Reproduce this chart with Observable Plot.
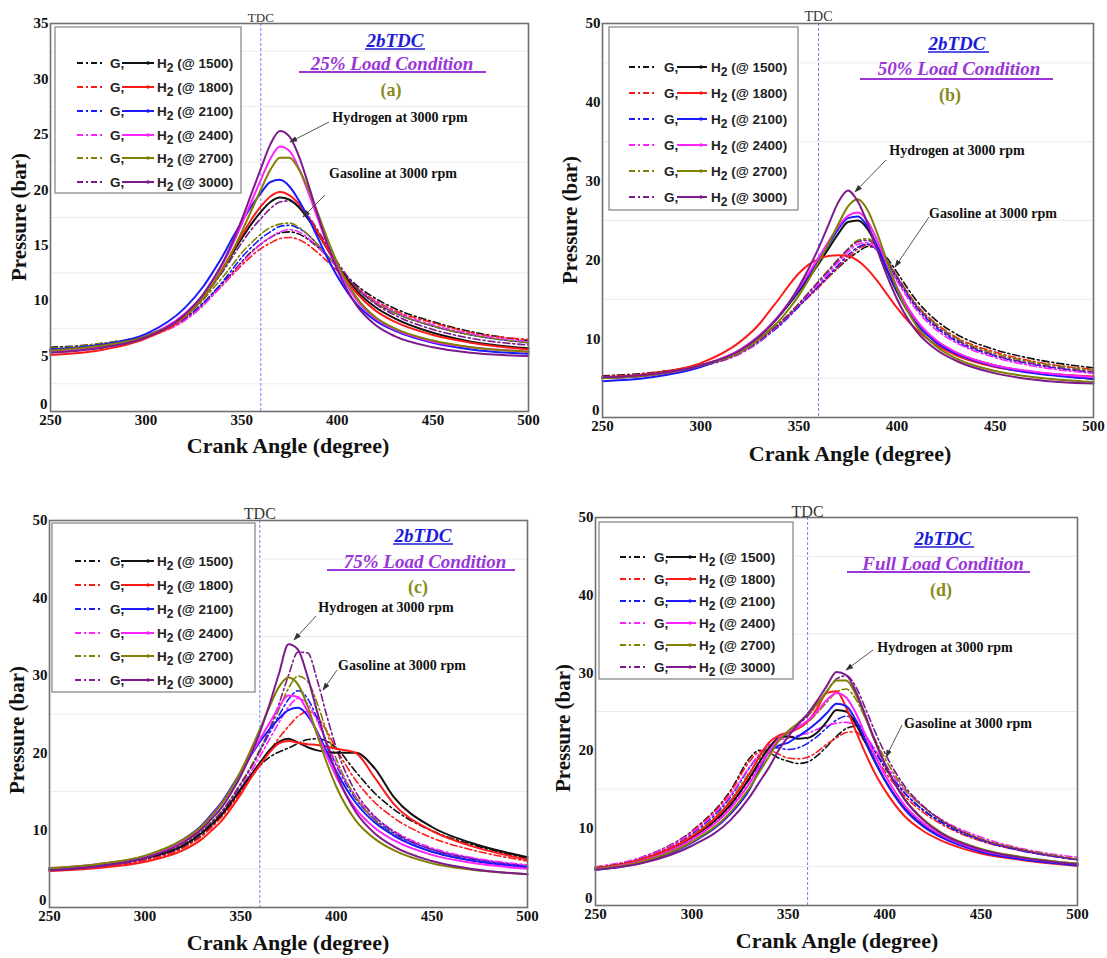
<!DOCTYPE html>
<html><head><meta charset="utf-8">
<script src="https://cdn.jsdelivr.net/npm/d3@7"></script>
<script src="https://cdn.jsdelivr.net/npm/@observablehq/plot@0.6"></script>
<style>
body{margin:0;background:#fff;}
#page{position:relative;width:1107px;height:958px;overflow:hidden;background:#fff;}
.panel{position:absolute;}
</style></head><body><div id="page"></div>
<script>
// ---------- DATA ----------
const angles = [250, 275, 300, 320, 330, 335, 340, 345, 350, 355, 360, 365, 370, 375, 380, 385, 390, 395, 400, 410, 420, 430, 450, 470, 500];
const speeds = [1500, 1800, 2100, 2400, 2700, 3000];
const speedColors = ["#111111", "#ff1a1a", "#1a1aff", "#ff22ff", "#808000", "#7d1a8c"];
const xTicks = [250, 300, 350, 400, 450, 500];

// (a) 25% load
const loadA_H2 = [
  [5.5, 5.9, 6.8, 8.6, 10.3, 11.5, 12.8, 14.2, 15.6, 16.9, 18.0, 18.9, 19.3, 19.1, 18.4, 17.3, 16.0, 14.6, 13.2, 10.9, 9.4, 8.4, 7.1, 6.3, 5.7],
  [5.1, 5.5, 6.6, 8.5, 10.3, 11.5, 12.9, 14.4, 15.9, 17.3, 18.5, 19.4, 19.8, 19.5, 18.7, 17.5, 16.1, 14.6, 13.1, 10.7, 9.1, 8.1, 6.9, 6.2, 5.6],
  [5.6, 6.0, 7.0, 9.3, 11.3, 12.6, 14.0, 15.6, 17.1, 18.5, 19.7, 20.7, 20.9, 20.3, 19.0, 17.4, 15.6, 13.8, 12.2, 9.7, 8.2, 7.3, 6.2, 5.6, 5.2],
  [5.4, 5.8, 6.8, 8.8, 10.6, 11.9, 13.3, 15.0, 16.9, 18.9, 20.9, 22.8, 23.9, 23.5, 21.9, 19.7, 17.3, 15.0, 13.0, 10.1, 8.4, 7.4, 6.3, 5.8, 5.4],
  [5.5, 5.9, 6.8, 8.6, 10.3, 11.5, 12.8, 14.4, 16.2, 18.1, 20.0, 21.8, 22.9, 22.9, 21.8, 20.0, 17.8, 15.5, 13.4, 10.3, 8.5, 7.5, 6.4, 5.8, 5.4],
  [5.3, 5.7, 6.7, 8.7, 10.6, 11.9, 13.4, 15.2, 17.3, 19.6, 21.9, 24.1, 25.3, 24.8, 23.0, 20.4, 17.6, 15.0, 12.8, 9.6, 7.8, 6.8, 5.8, 5.3, 5.0]
];
const loadA_G = [
  [5.8, 6.1, 6.9, 8.4, 9.8, 10.7, 11.6, 12.5, 13.5, 14.4, 15.1, 15.7, 16.1, 16.2, 16.0, 15.5, 14.8, 14.0, 13.1, 11.4, 10.2, 9.3, 8.1, 7.2, 6.4],
  [5.5, 5.9, 6.7, 8.2, 9.6, 10.5, 11.4, 12.3, 13.2, 14.0, 14.7, 15.2, 15.6, 15.7, 15.5, 15.0, 14.3, 13.5, 12.7, 11.2, 10.0, 9.1, 8.0, 7.1, 6.5],
  [5.6, 6.0, 6.8, 8.3, 9.8, 10.7, 11.7, 12.8, 13.9, 14.8, 15.6, 16.2, 16.7, 16.8, 16.5, 15.9, 15.0, 14.0, 13.0, 11.1, 9.8, 8.9, 7.7, 6.9, 6.2],
  [5.6, 6.0, 6.8, 8.2, 9.6, 10.5, 11.4, 12.4, 13.4, 14.3, 15.1, 15.7, 16.2, 16.4, 16.2, 15.6, 14.8, 13.9, 13.0, 11.2, 9.9, 9.0, 7.8, 7.0, 6.3],
  [5.7, 6.1, 6.9, 8.5, 10.1, 11.1, 12.1, 13.2, 14.3, 15.2, 16.0, 16.6, 16.9, 17.0, 16.6, 15.9, 15.0, 14.0, 13.0, 11.1, 9.8, 8.9, 7.7, 6.9, 6.2],
  [5.6, 6.0, 6.8, 8.6, 10.3, 11.4, 12.6, 13.9, 15.2, 16.4, 17.4, 18.3, 18.9, 19.0, 18.5, 17.6, 16.3, 14.9, 13.5, 11.2, 9.7, 8.7, 7.4, 6.6, 6.0]
];
// (b) 50% load
const loadB_H2 = [
  [5.0, 5.4, 6.6, 8.6, 10.4, 11.6, 12.9, 14.4, 16.0, 17.7, 19.5, 21.4, 23.3, 24.8, 25.0, 23.9, 21.5, 18.6, 15.9, 11.9, 9.6, 8.2, 6.6, 5.7, 4.9],
  [5.1, 5.6, 6.9, 9.6, 11.9, 13.5, 15.1, 16.8, 18.3, 19.4, 20.1, 20.5, 20.6, 20.5, 19.9, 18.8, 17.3, 15.6, 13.9, 11.1, 9.2, 7.9, 6.4, 5.7, 5.2],
  [4.6, 5.1, 6.4, 8.5, 10.3, 11.5, 12.9, 14.5, 16.2, 18.0, 19.9, 21.9, 23.9, 25.3, 25.5, 24.2, 21.7, 18.8, 16.0, 11.9, 9.5, 8.1, 6.5, 5.6, 4.9],
  [5.0, 5.4, 6.6, 8.6, 10.4, 11.6, 13.0, 14.6, 16.4, 18.3, 20.3, 22.3, 24.2, 25.6, 26.0, 24.9, 22.4, 19.4, 16.5, 12.3, 9.8, 8.3, 6.6, 5.8, 5.1],
  [5.0, 5.4, 6.6, 8.3, 10.0, 11.1, 12.3, 13.8, 15.5, 17.5, 19.7, 22.0, 24.5, 26.8, 27.7, 26.3, 23.3, 19.7, 16.3, 11.6, 9.0, 7.5, 5.9, 5.1, 4.5],
  [5.1, 5.5, 6.6, 8.5, 10.3, 11.5, 12.9, 14.6, 16.6, 18.9, 21.5, 24.4, 27.3, 28.8, 27.4, 24.6, 21.2, 17.9, 15.0, 10.9, 8.6, 7.2, 5.6, 4.8, 4.3]
];
const loadB_G = [
  [5.3, 5.7, 6.7, 8.3, 9.8, 10.8, 11.8, 13.0, 14.2, 15.4, 16.6, 17.8, 19.0, 20.1, 21.0, 21.7, 21.5, 20.2, 18.4, 14.8, 12.3, 10.6, 8.6, 7.4, 6.3],
  [5.2, 5.6, 6.6, 8.2, 9.7, 10.7, 11.7, 12.9, 14.1, 15.3, 16.5, 17.8, 19.1, 20.3, 21.4, 21.9, 21.3, 19.8, 17.9, 14.3, 11.9, 10.2, 8.3, 7.1, 6.1],
  [5.0, 5.4, 6.5, 8.1, 9.6, 10.6, 11.6, 12.8, 14.1, 15.4, 16.7, 18.0, 19.3, 20.6, 21.6, 22.0, 21.2, 19.5, 17.5, 13.9, 11.4, 9.7, 7.8, 6.7, 5.7],
  [5.1, 5.5, 6.5, 8.1, 9.7, 10.7, 11.8, 13.0, 14.3, 15.6, 16.9, 18.3, 19.7, 21.0, 22.0, 22.2, 21.2, 19.4, 17.3, 13.6, 11.1, 9.5, 7.6, 6.5, 5.6],
  [5.1, 5.5, 6.6, 8.3, 9.9, 10.9, 12.0, 13.2, 14.5, 15.9, 17.3, 18.7, 20.1, 21.4, 22.5, 22.7, 21.8, 20.0, 17.9, 14.2, 11.8, 10.1, 8.1, 7.0, 6.0],
  [5.0, 5.4, 6.5, 8.2, 9.8, 10.8, 11.9, 13.1, 14.4, 15.8, 17.2, 18.6, 20.0, 21.3, 22.3, 22.5, 21.6, 19.8, 17.8, 14.1, 11.6, 9.9, 7.9, 6.8, 5.8]
];
// (c) 75% load
const loadC_H2 = [
  [5.0, 5.5, 6.4, 8.0, 9.7, 10.8, 12.0, 13.6, 15.3, 17.0, 18.7, 20.3, 21.4, 21.8, 21.3, 20.7, 20.3, 20.1, 20.0, 20.0, 18.0, 14.3, 10.4, 8.4, 6.5],
  [4.7, 5.1, 5.9, 7.4, 8.9, 10.0, 11.2, 12.8, 14.6, 16.6, 18.4, 20.0, 21.2, 21.5, 21.3, 21.1, 21.0, 20.8, 20.5, 20.0, 16.8, 13.4, 9.9, 8.0, 6.2],
  [5.0, 5.5, 6.6, 8.8, 10.7, 12.1, 13.6, 15.5, 17.5, 19.5, 21.4, 23.0, 24.4, 25.5, 25.8, 24.8, 22.7, 20.1, 17.6, 13.6, 11.0, 9.3, 7.2, 6.1, 5.2],
  [5.1, 5.6, 6.6, 8.6, 10.5, 11.9, 13.4, 15.3, 17.4, 19.6, 21.7, 23.8, 25.9, 27.4, 27.2, 25.3, 22.5, 19.6, 16.9, 12.8, 10.3, 8.7, 6.8, 5.8, 5.0],
  [5.1, 5.6, 6.7, 8.8, 10.6, 11.9, 13.4, 15.3, 17.6, 20.2, 23.0, 25.9, 28.5, 29.7, 28.8, 26.0, 22.3, 18.7, 15.6, 11.3, 8.9, 7.4, 5.7, 4.9, 4.3],
  [4.8, 5.3, 6.4, 8.4, 10.2, 11.5, 12.9, 14.8, 17.0, 19.6, 22.6, 26.2, 30.2, 34.0, 33.3, 29.8, 25.3, 21.0, 17.4, 12.4, 9.6, 7.9, 6.0, 5.0, 4.3]
];
const loadC_G = [
  [4.9, 5.3, 6.2, 7.8, 9.4, 10.5, 11.8, 13.3, 15.0, 16.7, 18.3, 19.4, 20.1, 20.6, 21.2, 21.7, 21.8, 21.5, 20.6, 17.6, 14.8, 12.7, 9.9, 8.2, 6.3],
  [4.8, 5.2, 6.1, 7.7, 9.3, 10.4, 11.7, 13.2, 14.9, 16.7, 18.5, 20.2, 21.9, 23.4, 24.7, 25.3, 24.6, 22.8, 20.5, 16.5, 13.6, 11.6, 9.0, 7.5, 6.0],
  [5.0, 5.4, 6.4, 8.2, 9.9, 11.1, 12.4, 14.1, 16.0, 18.0, 20.2, 22.5, 24.8, 26.9, 28.0, 27.0, 24.4, 21.3, 18.4, 14.1, 11.4, 9.6, 7.5, 6.4, 5.4],
  [4.9, 5.4, 6.3, 8.0, 9.7, 10.8, 12.1, 13.7, 15.5, 17.4, 19.5, 21.7, 23.9, 25.9, 27.0, 26.3, 24.1, 21.3, 18.6, 14.4, 11.7, 9.9, 7.7, 6.5, 5.5],
  [5.0, 5.4, 6.4, 8.2, 9.9, 11.1, 12.4, 14.1, 16.0, 18.1, 20.4, 22.9, 25.6, 28.3, 29.9, 29.2, 26.4, 22.7, 19.2, 14.3, 11.3, 9.4, 7.2, 6.1, 5.1],
  [4.9, 5.3, 6.3, 8.1, 9.8, 11.0, 12.3, 14.0, 15.9, 17.9, 20.2, 23.0, 26.3, 30.0, 33.0, 32.9, 29.4, 24.8, 20.6, 15.0, 11.8, 9.8, 7.5, 6.3, 5.3]
];
// (d) full load
const loadD_H2 = [
  [4.8, 6.0, 8.8, 13.0, 16.5, 18.5, 20.3, 21.6, 21.8, 21.5, 21.6, 22.3, 23.7, 25.2, 25.0, 23.4, 21.0, 18.5, 16.2, 12.6, 10.3, 8.8, 7.0, 6.1, 5.3],
  [4.8, 6.0, 8.9, 13.4, 17.0, 19.2, 21.0, 21.9, 22.3, 22.8, 23.7, 25.4, 27.4, 27.6, 25.5, 22.5, 19.6, 17.0, 14.9, 11.6, 9.6, 8.3, 6.7, 5.9, 5.1],
  [4.6, 5.6, 8.1, 11.8, 15.0, 17.5, 19.8, 20.6, 21.0, 21.8, 22.6, 23.6, 24.8, 26.0, 25.7, 23.9, 21.3, 18.6, 16.2, 12.5, 10.2, 8.7, 6.9, 6.0, 5.2],
  [4.7, 5.8, 8.5, 12.5, 15.8, 17.9, 19.8, 21.5, 22.4, 23.0, 23.8, 25.0, 26.5, 27.4, 26.8, 24.8, 22.0, 19.3, 16.9, 13.0, 10.6, 9.0, 7.1, 6.2, 5.4],
  [4.7, 5.7, 8.2, 12.0, 15.2, 17.2, 19.2, 21.2, 22.5, 23.5, 24.6, 26.0, 27.6, 29.0, 29.0, 27.2, 24.2, 21.1, 18.3, 13.8, 11.1, 9.3, 7.3, 6.3, 5.4],
  [4.6, 5.5, 7.7, 11.0, 14.0, 15.9, 17.8, 20.0, 21.8, 23.3, 24.7, 26.4, 28.3, 30.1, 29.7, 27.6, 24.5, 21.2, 18.3, 13.8, 11.0, 9.2, 7.2, 6.2, 5.3]
];
const loadD_G = [
  [4.9, 6.3, 9.6, 14.8, 19.0, 20.0, 19.7, 19.0, 18.6, 18.3, 18.5, 19.3, 20.5, 21.8, 22.8, 23.1, 21.7, 19.8, 17.8, 14.6, 12.3, 10.7, 8.5, 7.2, 5.9],
  [4.8, 6.2, 9.5, 14.6, 18.6, 19.8, 20.0, 19.5, 19.0, 18.9, 19.1, 19.8, 20.8, 21.6, 22.3, 22.4, 21.0, 19.2, 17.3, 14.2, 12.0, 10.4, 8.3, 7.1, 5.9],
  [4.8, 6.1, 9.2, 14.0, 17.8, 19.4, 20.4, 20.3, 20.1, 20.3, 20.9, 21.8, 22.9, 23.9, 24.4, 23.8, 22.0, 19.9, 17.9, 14.6, 12.3, 10.6, 8.4, 7.1, 5.9],
  [5.0, 6.3, 9.4, 14.2, 17.9, 19.5, 20.7, 21.3, 21.6, 21.9, 22.2, 22.7, 23.2, 23.5, 23.6, 23.2, 21.9, 20.1, 18.3, 15.0, 12.7, 11.0, 8.8, 7.4, 6.2],
  [4.9, 6.1, 9.0, 13.6, 17.2, 18.9, 20.4, 21.5, 22.2, 22.8, 23.6, 24.8, 26.2, 27.5, 27.9, 26.6, 24.1, 21.4, 19.0, 15.2, 12.7, 10.9, 8.6, 7.3, 6.0],
  [4.8, 5.9, 8.6, 12.8, 16.3, 18.1, 19.8, 21.2, 22.3, 23.3, 24.4, 25.9, 27.6, 29.2, 29.6, 28.2, 25.4, 22.4, 19.7, 15.5, 12.8, 10.9, 8.5, 7.2, 5.9]
];

const yTicks35 = [5, 10, 15, 20, 25, 30, 35];
const yTicks50 = [10, 20, 30, 40, 50];
const yZero = [0];
const grid35 = [2.5, 7.5, 12.5, 17.5, 22.5, 27.5, 32.5];
const grid50 = [5, 15, 25, 35, 45];
const loadLabels = ["25% Load Condition", "50% Load Condition", "75% Load Condition", "Full Load Condition"];
const panelLetters = ["(a)", "(b)", "(c)", "(d)"];

// ---------- LAYOUT ----------
const panels = [
  {id:"a", left:0, top:0, width:553, height:470, m:[23,25,59,50], yMax:35, yTicks:yTicks35, grid:grid35, H:loadA_H2, G:loadA_G,
   tdc:[-11,13],
   legend:{box:[55,27,241,193], rows:[63,87,111,135,158,182], dd:[77,105], gx:110, solid:[122,154], hx:157},
   t1:[395,40], u1:[365,425,49], t2:[392,63], u2:[299,486,72], t3:[391,90],
   hyd:[400,117, 329,122, 290,142], gas:[393,173, 325,195, 303,217],
   ylab:[19,217], xlab:[288,445]},
  {id:"b", left:553, top:0, width:554, height:470, m:[23,14,53,49], yMax:50, yTicks:yTicks50, grid:grid50, H:loadB_H2, G:loadB_G,
   tdc:[-12,14],
   legend:{box:[56,27,245,210], rows:[67,93,119,145,171,197], dd:[76,104], gx:111, solid:[124,154], hx:158},
   t1:[404,43], u1:[375,436,52], t2:[406,68], u2:[307,500,79], t3:[397,95],
   hyd:[404,150, 333,160, 302,192], gas:[440,213, 376,217, 342,267],
   ylab:[17,220], xlab:[297,453]},
  {id:"c", left:0, top:480, width:553, height:478, m:[40,26,51,49], yMax:50, yTicks:yTicks50, grid:grid50, H:loadC_H2, G:loadC_G,
   tdc:[-13,16],
   legend:{box:[52,43,255,212], rows:[81,105,129,153,176,200], dd:[75,103], gx:110, solid:[121,154], hx:157},
   t1:[423,55], u1:[393,453,64], t2:[425,81], u2:[327,515,90], t3:[418,107],
   hyd:[386,127, 316,136, 294,160], gas:[402,185, 337,190, 323,210],
   ylab:[17,250], xlab:[288,462]},
  {id:"d", left:543, top:480, width:564, height:478, m:[37,30,53,52], yMax:50, yTicks:yTicks50, grid:grid50, H:loadD_H2, G:loadD_G,
   tdc:[-12,16],
   legend:{box:[56,42,250,199], rows:[77,99,121,143,165,187], dd:[77,103], gx:111, solid:[123,153], hx:156},
   t1:[400,58], u1:[371,431,67], t2:[400,83], u2:[304,487,92], t3:[398,110],
   hyd:[402,167, 330,170, 303,190], gas:[425,243, 359,245, 343,277],
   ylab:[20,248], xlab:[294,460]}
];

const SERIF = "'Liberation Serif','Times New Roman',serif";
const SANS = "'Liberation Sans',Arial,sans-serif";
const page = document.getElementById("page");

function rowsFrom(table) {
  return speeds.flatMap((sp, i) => angles.map((a, j) => ({angle: a, p: table[i][j], speed: sp, color: speedColors[i]})));
}

panels.forEach((P, k) => {
  const svg = Plot.plot({
    width: P.width, height: P.height,
    marginTop: P.m[0], marginRight: P.m[1], marginBottom: P.m[2], marginLeft: P.m[3],
    style: {fontFamily: SERIF, fontSize: "15px", fontWeight: "bold", background: "transparent", color: "#111"},
    x: {domain: [250, 500]},
    y: {domain: [0, P.yMax]},
    color: {type: "identity"},
    marks: [
      Plot.ruleY(P.grid, {stroke: "#ececec", strokeWidth: 1}),
      Plot.ruleX([360], {stroke: "#6b6bff", strokeWidth: 0.9, strokeDasharray: "3,2"}),
      Plot.line(rowsFrom(P.G), {x: "angle", y: "p", z: "speed", stroke: "color", strokeWidth: 1.6, strokeDasharray: "7,3,2,3", curve: "monotone-x"}),
      Plot.line(rowsFrom(P.H), {x: "angle", y: "p", z: "speed", stroke: "color", strokeWidth: 2, curve: "monotone-x"}),
      Plot.frame({stroke: "#707070", strokeWidth: 1.6}),
      Plot.axisX({ticks: xTicks, tickSize: 0, tickPadding: 3, label: null, fontWeight: "bold", fontSize: 15}),
      Plot.axisY({ticks: P.yTicks, tickSize: 0, tickPadding: 2, label: null, fontWeight: "bold", fontSize: 15}),
      Plot.axisY({ticks: yZero, tickSize: 0, tickPadding: 3, label: null, fontWeight: "bold", fontSize: 15, dy: -7}),
      Plot.text([{a: 360, t: "TDC"}], {x: "a", text: "t", frameAnchor: "top", dy: P.tdc[0], fontSize: P.tdc[1], fontWeight: "normal", fill: "#333"})
    ]
  });
  const div = document.createElement("div");
  div.className = "panel";
  div.style.left = P.left + "px";
  div.style.top = P.top + "px";
  div.appendChild(svg);
  page.appendChild(div);

  const s = d3.select(svg);
  s.append("defs").append("marker")
    .attr("id", "ah" + P.id).attr("viewBox", "0 0 10 10").attr("refX", 9).attr("refY", 5)
    .attr("markerWidth", 8).attr("markerHeight", 8).attr("markerUnits", "userSpaceOnUse").attr("orient", "auto")
    .append("path").attr("d", "M0,1.5L10,5L0,8.5z").attr("fill", "#333");

  // legend
  const L = P.legend;
  const g = s.append("g").attr("text-anchor", "start");
  g.append("rect").attr("x", L.box[0]).attr("y", L.box[1]).attr("width", L.box[2] - L.box[0]).attr("height", L.box[3] - L.box[1])
    .attr("fill", "#fff").attr("stroke", "#8a8a8a").attr("stroke-width", 1.3);
  speeds.forEach((sp, i) => {
    const y = L.rows[i];
    g.append("line").attr("x1", L.dd[0]).attr("x2", L.dd[1]).attr("y1", y).attr("y2", y)
      .attr("stroke", speedColors[i]).attr("stroke-width", 1.8).attr("stroke-dasharray", "6,3,2,3");
    g.append("text").attr("x", L.gx).attr("y", y).attr("dy", "0.35em").attr("text-anchor", "start")
      .style("font", `bold 13.5px ${SANS}`).attr("fill", "#222").text("G,");
    g.append("line").attr("x1", L.solid[0]).attr("x2", L.solid[1]).attr("y1", y).attr("y2", y)
      .attr("stroke", speedColors[i]).attr("stroke-width", 2);
    g.append("circle").attr("cx", L.solid[1] - 6).attr("cy", y).attr("r", 1.8).attr("fill", speedColors[i]);
    const t = g.append("text").attr("x", L.hx).attr("y", y).attr("dy", "0.35em").attr("text-anchor", "start")
      .style("font", `bold 13.5px ${SANS}`).attr("fill", "#222");
    t.append("tspan").text("H");
    t.append("tspan").attr("dy", 4).style("font-size", "12px").text("2");
    t.append("tspan").attr("dy", -4).text(" (@ " + sp + ")");
  });

  // titles
  s.append("text").attr("x", P.t1[0]).attr("y", P.t1[1]).attr("dy", "0.35em").attr("text-anchor", "middle")
    .style("font", `italic bold 19px ${SERIF}`).attr("fill", "#1c1cd8").text("2bTDC");
  s.append("line").attr("x1", P.u1[0]).attr("x2", P.u1[1]).attr("y1", P.u1[2]).attr("y2", P.u1[2]).attr("stroke", "#1c1cd8").attr("stroke-width", 1.6);
  s.append("text").attr("x", P.t2[0]).attr("y", P.t2[1]).attr("dy", "0.35em").attr("text-anchor", "middle")
    .style("font", `italic bold 19px ${SERIF}`).attr("fill", "#9a36d8").text(loadLabels[k]);
  s.append("line").attr("x1", P.u2[0]).attr("x2", P.u2[1]).attr("y1", P.u2[2]).attr("y2", P.u2[2]).attr("stroke", "#9a36d8").attr("stroke-width", 1.8);
  s.append("text").attr("x", P.t3[0]).attr("y", P.t3[1]).attr("dy", "0.35em").attr("text-anchor", "middle")
    .style("font", `bold 18px ${SERIF}`).attr("fill", "#8a8a22").text(panelLetters[k]);

  // annotations
  [[P.hyd, "Hydrogen at 3000 rpm"], [P.gas, "Gasoline at 3000 rpm"]].forEach(([A, label]) => {
    s.append("text").attr("x", A[0]).attr("y", A[1]).attr("dy", "0.35em").attr("text-anchor", "middle")
      .style("font", `bold 14px ${SERIF}`).attr("fill", "#111").text(label);
    s.append("line").attr("x1", A[2]).attr("y1", A[3]).attr("x2", A[4]).attr("y2", A[5])
      .attr("stroke", "#555").attr("stroke-width", 1).attr("marker-end", `url(#ah${P.id})`);
  });

  // axis titles
  s.append("text").attr("transform", `translate(${P.ylab[0]},${P.ylab[1]}) rotate(-90)`).attr("text-anchor", "middle").attr("dy", "0.35em")
    .style("font", `bold 21px ${SERIF}`).attr("fill", "#111").text("Pressure (bar)");
  s.append("text").attr("x", P.xlab[0]).attr("y", P.xlab[1]).attr("text-anchor", "middle").attr("dy", "0.35em")
    .style("font", `bold 22px ${SERIF}`).attr("fill", "#111").text("Crank Angle (degree)");
});
</script></body></html>
